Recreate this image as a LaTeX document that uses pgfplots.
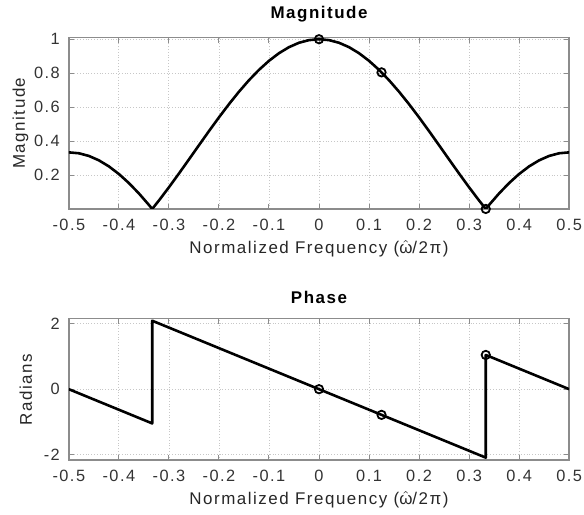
\documentclass[border=0pt]{standalone}
\usepackage{fontspec}
\setmainfont{Liberation Sans}[LetterSpace=9]
\usepackage{pgfplots}
\pgfplotsset{compat=1.18}

\newcommand{\omhat}{\smash{$\hat{\hbox{ω}}$}}

\pgfplotsset{
  mlab/.style={
    scale only axis, width=251pt,
    xmin=-0.5, xmax=0.5,
    xtick={-0.5,-0.4,-0.3,-0.2,-0.1,0,0.1,0.2,0.3,0.4,0.5},
    xticklabels={-0.5,-0.4,-0.3,-0.2,-0.1,0,0.1,0.2,0.3,0.4,0.5},
    tick align=inside, major tick length=2.5pt,
    axis line style={draw=black!45, line width=0.7pt},
    tick style={black!45, line width=0.5pt},
    grid=major, major grid style={densely dotted, black!22, line width=0.4pt},
    ticklabel style={font=\fontsize{8.2}{9}\selectfont, text=black!80},
    label style={font=\fontsize{8.5}{9}\selectfont, text=black!85},
    title style={font=\fontsize{8.5}{9}\selectfont\bfseries, yshift=-2pt},
    xlabel={Normalized Frequency (\omhat/2π)},
    xlabel style={yshift=1.5pt},
    xticklabel style={yshift=-1.5pt, inner xsep=1pt},
    yticklabel style={xshift=-1pt},
  },
  curve/.style={black, line width=1.3pt, line join=round},
  pts/.style={only marks, black, mark=o, mark size=2.1pt, mark options={line width=0.9pt}},
}

\begin{document}
\begin{tikzpicture}
\begin{axis}[mlab, at={(0,126pt)}, height=86pt,
  ymin=0, ymax=1.01,
  ytick={0.2,0.4,0.6,0.8,1}, yticklabels={0.2,0.4,0.6,0.8,1},
  title={Magnitude}, ylabel={Magnitude}, ylabel style={yshift=-4pt}]
\addplot[curve] coordinates {
(-0.50,0.33333) (-0.48,0.32807) (-0.46,0.31239) (-0.44,0.28652) (-0.42,0.25087)
(-0.40,0.20601) (-0.38,0.15265) (-0.36,0.09161) (-0.34,0.02389) (-0.33333,0)
(-0.32,0.04948) (-0.30,0.12732) (-0.28,0.20841) (-0.26,0.29147) (-0.24,0.37519)
(-0.22,0.45825) (-0.20,0.53935) (-0.18,0.61719) (-0.16,0.69055) (-0.14,0.75828)
(-0.12,0.81931) (-0.10,0.87268) (-0.08,0.91754) (-0.06,0.95319) (-0.04,0.97905)
(-0.02,0.99474) (0,1)
(0.02,0.99474) (0.04,0.97905) (0.06,0.95319) (0.08,0.91754) (0.10,0.87268)
(0.12,0.81931) (0.14,0.75828) (0.16,0.69055) (0.18,0.61719) (0.20,0.53935)
(0.22,0.45825) (0.24,0.37519) (0.26,0.29147) (0.28,0.20841) (0.30,0.12732)
(0.32,0.04948) (0.33333,0) (0.34,0.02389) (0.36,0.09161) (0.38,0.15265)
(0.40,0.20601) (0.42,0.25087) (0.44,0.28652) (0.46,0.31239) (0.48,0.32807)
(0.50,0.33333)
};
\addplot[pts] coordinates {(0,1) (0.125,0.80474) (0.33333,0)};
\end{axis}

\begin{axis}[mlab, at={(0,0)}, height=71pt,
  ymin=-2.17, ymax=2.16,
  ytick={-2,0,2}, yticklabels={-2,0,2},
  title={Phase}, ylabel={Radians}, ylabel style={yshift=-1pt}]
\addplot[curve] coordinates {
(-0.5,0) (-0.33333,-1.0472) (-0.33333,2.0944) (0.33333,-2.0944) (0.33333,1.0472) (0.5,0)
};
\addplot[pts] coordinates {(0,0) (0.125,-0.7854) (0.33333,1.0472)};
\end{axis}
% a little white room on the left, as in the reference
\path ([xshift=-3pt]current bounding box.west);
\end{tikzpicture}
\end{document}
